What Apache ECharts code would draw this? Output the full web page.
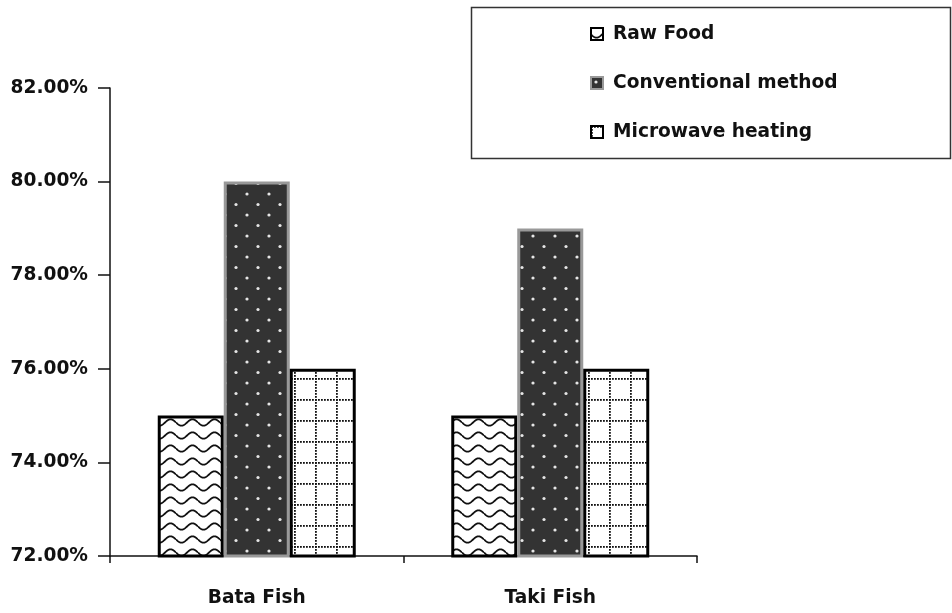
<!DOCTYPE html>
<html>
<head>
<meta charset="utf-8">
<script src="https://cdn.jsdelivr.net/npm/echarts@6/dist/echarts.min.js"></script>
<style>
  html, body { margin: 0; padding: 0; background: #fff; }
  #chart { width: 952px; height: 613px; }
</style>
</head>
<body>
<div id="chart"></div>
<script>
// data
const categories = ['Bata Fish', 'Taki Fish'];
const rawFood = [75, 75];
const conventional = [80, 79];
const microwave = [76, 76];
const seriesNames = ['Raw Food', 'Conventional method', 'Microwave heating'];

// hatch fills
function makeTile(w, h, draw) {
  const c = document.createElement('canvas');
  c.width = w;
  c.height = h;
  draw(c.getContext('2d'), w, h);
  return { image: c, repeat: 'repeat' };
}

const wavePattern = makeTile(22, 13, (ctx, w, h) => {
  ctx.fillStyle = '#fff';
  ctx.fillRect(0, 0, w, h);
  ctx.strokeStyle = '#111';
  ctx.lineWidth = 1.8;
  ctx.beginPath();
  for (let x = 0; x <= w; x += 0.5) {
    const y = 6.5 + 3.2 * Math.sin((2 * Math.PI * x) / w);
    if (x === 0) ctx.moveTo(x, y); else ctx.lineTo(x, y);
  }
  ctx.stroke();
});

const dotPattern = makeTile(22, 21, (ctx, w, h) => {
  ctx.fillStyle = '#333';
  ctx.fillRect(0, 0, w, h);
  ctx.fillStyle = '#e6e6e6';
  [[5, 5], [16, 15.5]].forEach(([x, y]) => {
    ctx.beginPath();
    ctx.arc(x, y, 1.6, 0, Math.PI * 2);
    ctx.fill();
  });
});

const gridPattern = makeTile(21, 21, (ctx, w, h) => {
  ctx.fillStyle = '#fff';
  ctx.fillRect(0, 0, w, h);
  ctx.fillStyle = '#111';
  for (let i = 0; i < w; i += 3) {
    ctx.fillRect(i, 0, 1.8, 1.8);
    ctx.fillRect(0, i, 1.8, 1.8);
  }
});

const labelFont = {
  fontFamily: 'DejaVu Sans',
  fontWeight: 'bold',
  fontSize: 18.6,
  color: '#111'
};

const chart = echarts.init(document.getElementById('chart'), null, { renderer: 'canvas' });

chart.setOption({
  animation: false,
  backgroundColor: '#fff',
  grid: { left: 110, right: 255, top: 88, bottom: 57 },
  graphic: [{
    type: 'rect',
    shape: { x: 471.5, y: 7.5, width: 479, height: 151 },
    style: { fill: '#fff', stroke: '#333', lineWidth: 1.5 },
    z: 0
  }],
  legend: {
    orient: 'vertical',
    left: 585,
    top: 18,
    itemWidth: 12,
    itemHeight: 12,
    itemGap: 27,
    icon: 'rect',
    textStyle: Object.assign({}, labelFont, { lineHeight: 22, padding: [0, 0, 0, 5] }),
    data: seriesNames
  },
  xAxis: {
    type: 'category',
    data: categories,
    axisLine: { lineStyle: { color: '#111', width: 1.5 } },
    axisTick: { show: true, length: 7, lineStyle: { color: '#111', width: 1.5 } },
    axisLabel: Object.assign({ margin: 33 }, labelFont),
    splitLine: { show: false }
  },
  yAxis: {
    type: 'value',
    min: 72,
    max: 82,
    interval: 2,
    axisLine: { show: true, lineStyle: { color: '#111', width: 1.5 } },
    axisTick: { show: true, length: 12, lineStyle: { color: '#111', width: 1.5 } },
    axisLabel: Object.assign({ margin: 22, formatter: v => v.toFixed(2) + '%' }, labelFont),
    splitLine: { show: false }
  },
  series: [
    {
      name: seriesNames[0],
      type: 'bar',
      data: rawFood,
      barWidth: 66,
      barGap: '0%',
      itemStyle: { color: wavePattern, borderColor: '#000', borderWidth: 3 }
    },
    {
      name: seriesNames[1],
      type: 'bar',
      data: conventional,
      barWidth: 66,
      barGap: '0%',
      itemStyle: { color: dotPattern, borderColor: '#999', borderWidth: 3 }
    },
    {
      name: seriesNames[2],
      type: 'bar',
      data: microwave,
      barWidth: 66,
      barGap: '0%',
      itemStyle: { color: gridPattern, borderColor: '#000', borderWidth: 3 }
    }
  ]
});
</script>
</body>
</html>
